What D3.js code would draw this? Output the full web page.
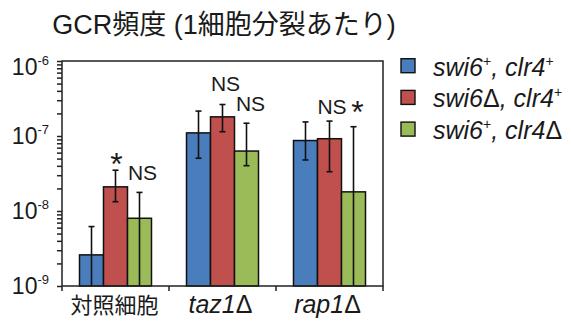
<!DOCTYPE html>
<html>
<head>
<meta charset="utf-8">
<script src="https://cdn.jsdelivr.net/npm/d3@7"></script>
<style>
  html, body { margin: 0; padding: 0; background: #fff; }
  svg { display: block; }
  text { font-family: "Liberation Sans", Arial, "Noto Sans CJK JP", sans-serif; fill: #1a1a1a; }
  .cjk { font-family: "Noto Sans CJK JP", "Liberation Sans", sans-serif; }
  .title { font-family: "Liberation Sans", Arial, "Noto Sans CJK JP", sans-serif; }
</style>
</head>
<body>
<svg id="chart" width="571" height="322"></svg>
<script>
// GCR frequency per cell division, by strain background and genotype
const categories = ["対照細胞", "taz1Δ", "rap1Δ"];
const seriesNames = ["swi6+, clr4+", "swi6Δ, clr4+", "swi6+, clr4Δ"];
const colors = ["#4a7dbb", "#c0504d", "#9bbb59"];

// mean frequency per category, one array per series
const meanSwi6Clr4 = [2.6e-9, 1.1e-7, 8.7e-8];
const meanSwi6dClr4 = [2.1e-8, 1.8e-7, 9.2e-8];
const meanSwi6Clr4d = [8.0e-9, 6.3e-8, 1.8e-8];
// error bar upper / lower limits (0 = falls below the axis)
const upperSwi6Clr4 = [6.2e-9, 2.15e-7, 1.54e-7];
const upperSwi6dClr4 = [3.5e-8, 2.63e-7, 1.58e-7];
const upperSwi6Clr4d = [1.77e-8, 1.48e-7, 1.33e-7];
const lowerSwi6Clr4 = [0, 5.05e-8, 4.79e-8];
const lowerSwi6dClr4 = [1.33e-8, 1.14e-7, 3.34e-8];
const lowerSwi6Clr4d = [0, 4.02e-8, 0];

const yTickExponents = [-9, -8, -7, -6];

// significance marks: category index, series index, text
const sigCategory = [0, 0, 1, 1, 2, 2];
const sigSeries = [1, 2, 1, 2, 1, 2];
const sigText = ["*", "NS", "NS", "NS", "NS", "*"];

const means = [meanSwi6Clr4, meanSwi6dClr4, meanSwi6Clr4d];
const uppers = [upperSwi6Clr4, upperSwi6dClr4, upperSwi6Clr4d];
const lowers = [lowerSwi6Clr4, lowerSwi6dClr4, lowerSwi6Clr4d];

const bars = [];
categories.forEach((c, ci) => {
  seriesNames.forEach((s, si) => {
    bars.push({cat: c, s: si, v: means[si][ci], hi: uppers[si][ci], lo: lowers[si][ci]});
  });
});

// layout
const plot = {left: 62, right: 383, top: 61, bottom: 286};
const svg = d3.select("#chart");

const x0 = d3.scaleBand().domain(categories).range([plot.left, plot.right]);
const barW = 24;
const groupPad = (x0.bandwidth() - barW * seriesNames.length) / 2;
const x1 = d3.scaleBand().domain(d3.range(seriesNames.length))
  .range([groupPad, x0.bandwidth() - groupPad]);

const y = d3.scaleLog().domain([1e-9, 1e-6]).range([plot.bottom, plot.top]).clamp(true);
const yMin = y.domain()[0];

// gene names in italics, with upright Δ and raised "+"
function geneText(sel, str, supSize) {
  let raised = false;
  str.split(/([+Δ])/).filter(p => p.length).forEach(p => {
    if (p === "+") {
      sel.append("tspan").attr("dy", raised ? 0 : -10)
        .style("font-size", supSize).style("font-style", "normal").text("+");
      raised = true;
    } else if (p === "Δ") {
      sel.append("tspan").attr("dy", raised ? 10 : 0).style("font-style", "normal").text("Δ");
      raised = false;
    } else {
      sel.append("tspan").attr("dy", raised ? 10 : 0).style("font-style", "italic").text(p);
      raised = false;
    }
  });
}

// title
svg.append("text")
  .attr("class", "title")
  .attr("x", 224).attr("y", 34)
  .attr("text-anchor", "middle")
  .style("font-size", "27px")
  .text("GCR頻度 (1細胞分裂あたり)");

// bars
svg.append("g").selectAll("rect").data(bars).join("rect")
  .attr("x", d => x0(d.cat) + x1(d.s))
  .attr("width", x1.bandwidth())
  .attr("y", d => y(d.v))
  .attr("height", d => plot.bottom - y(d.v))
  .attr("fill", d => colors[d.s])
  .attr("stroke", "#111")
  .attr("stroke-width", 1.5);

// error bars
const cap = 3;
const eb = svg.append("g").attr("stroke", "#111").attr("stroke-width", 1.6);
bars.forEach(d => {
  const cx = x0(d.cat) + x1(d.s) + x1.bandwidth() / 2;
  const yHi = y(d.hi);
  const yLo = d.lo > yMin ? y(d.lo) : plot.bottom;
  eb.append("line").attr("x1", cx).attr("x2", cx).attr("y1", yHi).attr("y2", yLo);
  eb.append("line").attr("x1", cx - cap).attr("x2", cx + cap).attr("y1", yHi).attr("y2", yHi);
  if (d.lo > yMin) {
    eb.append("line").attr("x1", cx - cap).attr("x2", cx + cap).attr("y1", yLo).attr("y2", yLo);
  }
});

// frame
svg.append("rect")
  .attr("x", plot.left).attr("y", plot.top)
  .attr("width", plot.right - plot.left).attr("height", plot.bottom - plot.top)
  .attr("fill", "none").attr("stroke", "#222").attr("stroke-width", 1.5);

// y axis: decade and minor ticks
const minorTicks = [];
yTickExponents.forEach((e, i) => {
  minorTicks.push(Math.pow(10, e));
  if (i < yTickExponents.length - 1) {
    for (let k = 2; k <= 9; k++) minorTicks.push(k * Math.pow(10, e));
  }
});
const yAxis = d3.axisLeft(y).tickValues(minorTicks).tickSize(5).tickFormat("");
const gy = svg.append("g").attr("transform", `translate(${plot.left},0)`).call(yAxis);
gy.select(".domain").remove();
gy.selectAll(".tick line").attr("stroke", "#222").attr("stroke-width", 1.5);

// y tick labels as 10 with superscript exponent
const yl = svg.append("g");
yTickExponents.forEach(e => {
  const ty = y(Math.pow(10, e));
  const t = yl.append("text")
    .attr("x", 49).attr("y", ty + (e === -6 ? 14 : 8))
    .attr("text-anchor", "end")
    .style("font-size", "23px");
  t.append("tspan").text("10");
  t.append("tspan").attr("dy", -10).style("font-size", "13px").text("-" + (-e));
});

// x axis ticks at category boundaries
const bounds = categories.map(c => x0(c)).concat([plot.right]);
svg.append("g").selectAll("line").data(bounds).join("line")
  .attr("x1", d => d).attr("x2", d => d)
  .attr("y1", plot.bottom).attr("y2", plot.bottom + 5)
  .attr("stroke", "#222").attr("stroke-width", 1.5);

// x category labels
svg.append("g").selectAll("text").data(categories).join("text")
  .attr("x", d => x0(d) + x0.bandwidth() / 2 + (d === categories[0] ? -1 : -2))
  .attr("y", 313)
  .attr("text-anchor", "middle")
  .attr("class", (d, i) => i === 0 ? "cjk" : null)
  .style("font-size", (d, i) => i === 0 ? "22px" : "25px")
  .each(function(d, i) {
    if (i === 0) d3.select(this).text(d);
    else geneText(d3.select(this), d, "14px");
  });

// significance marks, placed above each error bar
const sigLift = [-5, 12, 14, 12, 7, 4];
const sigShift = [1, 3, 3, 4, 2.5, 4];
sigText.forEach((t, i) => {
  const ci = sigCategory[i], si = sigSeries[i];
  const cat = categories[ci];
  const cx = x0(cat) + x1(si) + x1.bandwidth() / 2 + sigShift[i];
  svg.append("text")
    .attr("x", cx)
    .attr("y", y(uppers[si][ci]) - sigLift[i])
    .attr("text-anchor", "middle")
    .style("font-size", t === "*" ? "32px" : "21px")
    .text(t);
});

// legend
const lg = svg.append("g");
seriesNames.forEach((name, i) => {
  const base = 75.7 + i * 31.7;
  lg.append("rect")
    .attr("x", 401).attr("y", base - 17)
    .attr("width", 14).attr("height", 14)
    .attr("fill", colors[i]).attr("stroke", "#111").attr("stroke-width", 1.4);
  const t = lg.append("text")
    .attr("x", 433).attr("y", base)
    .style("font-size", "25px");
  geneText(t, name, "14px");
});
</script>
</body>
</html>
